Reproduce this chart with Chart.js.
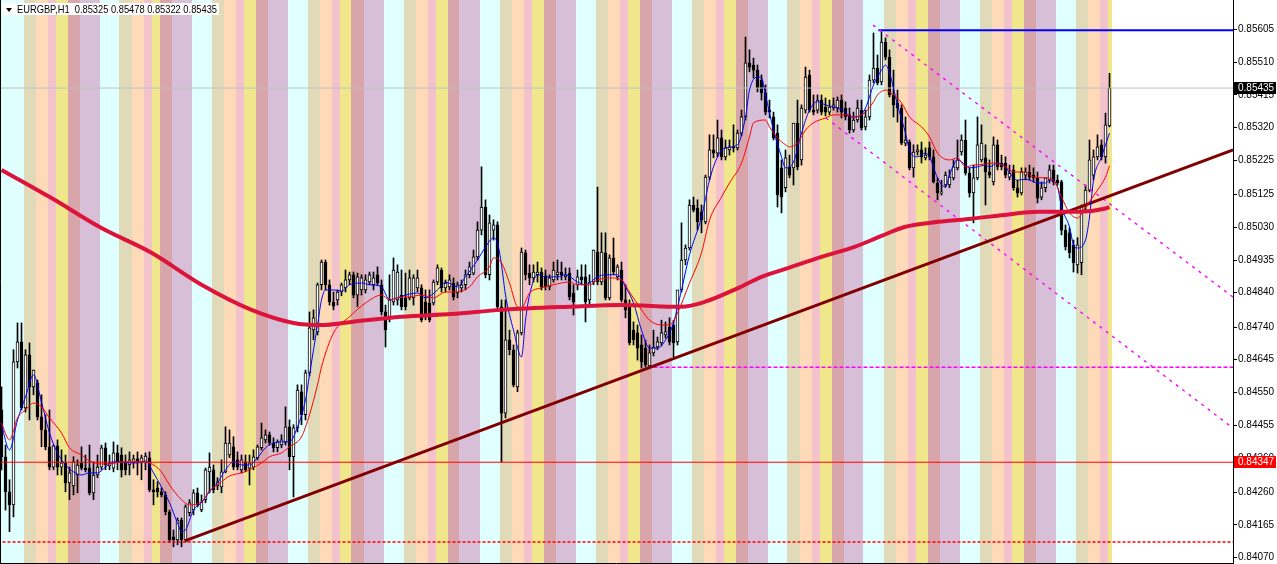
<!DOCTYPE html>
<html>
<head>
<meta charset="utf-8">
<script src="https://cdn.jsdelivr.net/npm/chart.js@4.4.0/dist/chart.umd.min.js"></script>
<style>
html,body{margin:0;padding:0;background:#fff;overflow:hidden}
#wrap{width:1277px;height:564px}
</style>
</head>
<body>
<div id="wrap"><canvas id="chart" width="1277" height="564"></canvas></div>
<script>
// EURGBP H1 candles, bar 0 = leftmost
const symbol = 'EURGBP,H1';
const opens = [
0.84499,0.84363,0.84261,0.84223,0.84639,0.84697,0.84505,0.84659,0.84566,0.84578,
0.84479,0.84441,0.84392,0.84333,0.84395,0.84333,0.84345,0.84287,0.84278,0.84310,
0.84345,0.84330,0.84330,0.84258,0.84310,0.84333,0.84389,0.84336,0.84330,0.84374,
0.84368,0.84348,0.84339,0.84348,0.84357,0.84345,0.84345,0.84360,0.84267,0.84272,
0.84261,0.84252,0.84203,0.84130,0.84121,0.84179,0.84121,0.84200,0.84208,0.84258,
0.84208,0.84238,0.84319,0.84325,0.84278,0.84275,0.84319,0.84368,0.84392,0.84354,
0.84325,0.84348,0.84330,0.84333,0.84360,0.84389,0.84412,0.84427,0.84403,0.84389,
0.84397,0.84406,0.84450,0.84363,0.84447,0.84552,0.84485,0.84607,0.84732,0.84726,
0.84863,0.84929,0.84863,0.84813,0.84819,0.84842,0.84854,0.84877,0.84892,0.84833,
0.84848,0.84848,0.84871,0.84863,0.84892,0.84863,0.84784,0.84767,0.84813,0.84819,
0.84833,0.84825,0.84825,0.84825,0.84854,0.84854,0.84813,0.84810,0.84810,0.84871,
0.84906,0.84854,0.84857,0.84868,0.84839,0.84854,0.84863,0.84892,0.84897,0.84944,
0.85022,0.85089,0.84892,0.85022,0.85037,0.84799,0.84490,0.84703,0.84674,0.84566,
0.84723,0.84956,0.84897,0.84883,0.84892,0.84900,0.84889,0.84857,0.84877,0.84892,
0.84900,0.84886,0.84897,0.84839,0.84863,0.84886,0.84886,0.84819,0.84871,0.84958,
0.84871,0.84956,0.84825,0.84941,0.84886,0.84906,0.84819,0.84804,0.84731,0.84723,
0.84688,0.84679,0.84627,0.84665,0.84682,0.84694,0.84717,0.84740,0.84746,0.84697,
0.84848,0.84935,0.84970,0.85095,0.85086,0.85075,0.85046,0.85176,0.85255,0.85246,
0.85290,0.85235,0.85255,0.85264,0.85261,0.85304,0.85351,0.85508,0.85502,0.85487,
0.85458,0.85421,0.85371,0.85351,0.85304,0.85203,0.85145,0.85206,0.85203,0.85333,
0.85226,0.85371,0.85473,0.85371,0.85371,0.85400,0.85380,0.85365,0.85377,0.85377,
0.85400,0.85377,0.85357,0.85313,0.85342,0.85371,0.85322,0.85351,0.85458,0.85493,
0.85453,0.85569,0.85525,0.85415,0.85392,0.85377,0.85275,0.85278,0.85203,0.85249,
0.85255,0.85232,0.85261,0.85235,0.85159,0.85130,0.85153,0.85153,0.85174,0.85203,
0.85249,0.85284,0.85188,0.85130,0.85174,0.85226,0.85232,0.85191,0.85162,0.85270,
0.85217,0.85217,0.85176,0.85197,0.85145,0.85130,0.85182,0.85191,0.85182,0.85174,
0.85118,0.85145,0.85167,0.85197,0.85167,0.85162,0.85022,0.85014,0.84979,0.84921,
0.84927,0.85089,0.85138,0.85182,0.85235,0.85270,0.85235,0.85325];
const highs = [
0.84566,0.84397,0.84296,0.84674,0.84752,0.84752,0.84674,0.84694,0.84615,0.84586,
0.84543,0.84485,0.84499,0.84397,0.84412,0.84383,0.84368,0.84333,0.84363,0.84354,
0.84392,0.84368,0.84397,0.84348,0.84368,0.84397,0.84403,0.84368,0.84406,0.84397,
0.84389,0.84368,0.84377,0.84368,0.84377,0.84368,0.84374,0.84377,0.84296,0.84290,
0.84272,0.84261,0.84208,0.84150,0.84185,0.84185,0.84223,0.84238,0.84267,0.84272,
0.84252,0.84330,0.84374,0.84339,0.84302,0.84354,0.84450,0.84441,0.84421,0.84377,
0.84368,0.84368,0.84368,0.84383,0.84397,0.84461,0.84441,0.84435,0.84418,0.84412,
0.84427,0.84508,0.84470,0.84456,0.84572,0.84572,0.84615,0.84784,0.84790,0.84868,
0.84935,0.84935,0.84877,0.84842,0.84848,0.84868,0.84906,0.84900,0.84900,0.84897,
0.84892,0.84892,0.84900,0.84900,0.84915,0.84877,0.84804,0.84892,0.84941,0.84921,
0.84906,0.84897,0.84906,0.84892,0.84906,0.84863,0.84848,0.84848,0.84877,0.84921,
0.84912,0.84877,0.84892,0.84883,0.84871,0.84877,0.84906,0.84929,0.84964,0.85046,
0.85206,0.85110,0.85066,0.85052,0.85046,0.84819,0.84819,0.84731,0.84688,0.84731,
0.84970,0.84964,0.84921,0.84921,0.84929,0.84912,0.84906,0.84892,0.84929,0.84935,
0.84929,0.84912,0.84912,0.84863,0.84906,0.84921,0.84921,0.84892,0.84964,0.85147,
0.85014,0.85014,0.84950,0.84999,0.84921,0.84929,0.84863,0.84819,0.84755,0.84746,
0.84717,0.84702,0.84688,0.84731,0.84711,0.84760,0.84755,0.84767,0.84760,0.84790,
0.85043,0.84979,0.85110,0.85118,0.85110,0.85095,0.85182,0.85299,0.85299,0.85342,
0.85313,0.85284,0.85284,0.85328,0.85313,0.85371,0.85583,0.85546,0.85522,0.85502,
0.85473,0.85444,0.85400,0.85365,0.85328,0.85226,0.85255,0.85240,0.85313,0.85400,
0.85386,0.85496,0.85487,0.85415,0.85415,0.85415,0.85406,0.85400,0.85406,0.85409,
0.85415,0.85395,0.85377,0.85365,0.85400,0.85400,0.85371,0.85473,0.85595,0.85531,
0.85603,0.85581,0.85546,0.85487,0.85429,0.85386,0.85351,0.85284,0.85270,0.85270,
0.85278,0.85261,0.85278,0.85255,0.85174,0.85167,0.85191,0.85197,0.85226,0.85284,
0.85299,0.85342,0.85203,0.85211,0.85351,0.85328,0.85270,0.85226,0.85293,0.85284,
0.85240,0.85235,0.85211,0.85211,0.85167,0.85203,0.85203,0.85211,0.85203,0.85191,
0.85162,0.85174,0.85211,0.85211,0.85182,0.85167,0.85037,0.85028,0.84993,0.85000,
0.85095,0.85153,0.85284,0.85255,0.85299,0.85284,0.85362,0.85478];
const lows = [
0.84325,0.84208,0.84145,0.84188,0.84621,0.84499,0.84493,0.84470,0.84543,0.84470,
0.84392,0.84383,0.84325,0.84325,0.84310,0.84310,0.84261,0.84238,0.84252,0.84258,
0.84325,0.84319,0.84252,0.84238,0.84302,0.84325,0.84325,0.84325,0.84319,0.84325,
0.84304,0.84310,0.84310,0.84330,0.84310,0.84296,0.84325,0.84261,0.84223,0.84246,
0.84246,0.84194,0.84113,0.84101,0.84107,0.84101,0.84115,0.84191,0.84194,0.84217,
0.84203,0.84229,0.84258,0.84258,0.84267,0.84258,0.84316,0.84360,0.84325,0.84325,
0.84316,0.84319,0.84281,0.84325,0.84354,0.84383,0.84403,0.84397,0.84377,0.84377,
0.84389,0.84397,0.84325,0.84246,0.84435,0.84456,0.84470,0.84598,0.84703,0.84717,
0.84848,0.84848,0.84804,0.84790,0.84804,0.84831,0.84842,0.84863,0.84825,0.84799,
0.84833,0.84839,0.84863,0.84848,0.84863,0.84775,0.84682,0.84755,0.84804,0.84804,
0.84790,0.84790,0.84819,0.84804,0.84842,0.84755,0.84761,0.84755,0.84804,0.84863,
0.84842,0.84842,0.84848,0.84819,0.84825,0.84842,0.84848,0.84883,0.84892,0.84935,
0.85008,0.84883,0.84877,0.84993,0.84790,0.84348,0.84476,0.84659,0.84566,0.84552,
0.84717,0.84877,0.84863,0.84871,0.84871,0.84848,0.84848,0.84848,0.84871,0.84877,
0.84877,0.84877,0.84819,0.84775,0.84848,0.84863,0.84755,0.84804,0.84863,0.84863,
0.84863,0.84819,0.84819,0.84892,0.84877,0.84813,0.84767,0.84688,0.84688,0.84644,
0.84621,0.84624,0.84621,0.84656,0.84674,0.84685,0.84708,0.84688,0.84653,0.84688,
0.84842,0.84921,0.84964,0.85075,0.85022,0.85014,0.85040,0.85168,0.85232,0.85235,
0.85226,0.85226,0.85240,0.85249,0.85255,0.85296,0.85342,0.85482,0.85464,0.85424,
0.85400,0.85357,0.85348,0.85284,0.85089,0.85072,0.85133,0.85174,0.85153,0.85197,
0.85211,0.85362,0.85365,0.85357,0.85362,0.85357,0.85354,0.85357,0.85371,0.85365,
0.85348,0.85342,0.85304,0.85307,0.85336,0.85313,0.85313,0.85342,0.85450,0.85444,
0.85444,0.85517,0.85409,0.85351,0.85336,0.85270,0.85267,0.85197,0.85176,0.85240,
0.85217,0.85226,0.85226,0.85159,0.85110,0.85124,0.85147,0.85145,0.85168,0.85197,
0.85240,0.85182,0.85118,0.85043,0.85168,0.85220,0.85095,0.85174,0.85153,0.85197,
0.85197,0.85174,0.85168,0.85138,0.85118,0.85124,0.85168,0.85168,0.85162,0.85101,
0.85110,0.85133,0.85159,0.85153,0.85153,0.85008,0.84964,0.84941,0.84900,0.84897,
0.84892,0.85080,0.85133,0.85168,0.85226,0.85226,0.85217,0.85322];
const closes = [
0.84363,0.84261,0.84223,0.84639,0.84697,0.84505,0.84659,0.84566,0.84615,0.84479,
0.84441,0.84392,0.84333,0.84395,0.84333,0.84345,0.84287,0.84316,0.84348,0.84339,
0.84330,0.84325,0.84258,0.84310,0.84333,0.84389,0.84339,0.84345,0.84374,0.84348,
0.84325,0.84325,0.84354,0.84357,0.84345,0.84360,0.84365,0.84267,0.84261,0.84261,
0.84252,0.84203,0.84121,0.84121,0.84179,0.84121,0.84217,0.84229,0.84258,0.84223,
0.84232,0.84325,0.84333,0.84267,0.84290,0.84319,0.84403,0.84403,0.84333,0.84333,
0.84354,0.84325,0.84345,0.84363,0.84392,0.84418,0.84427,0.84403,0.84389,0.84406,
0.84412,0.84450,0.84363,0.84447,0.84557,0.84485,0.84607,0.84738,0.84767,0.84863,
0.84929,0.84863,0.84813,0.84801,0.84842,0.84863,0.84877,0.84892,0.84833,0.84886,
0.84883,0.84877,0.84892,0.84883,0.84868,0.84784,0.84732,0.84819,0.84906,0.84900,
0.84799,0.84799,0.84883,0.84883,0.84883,0.84761,0.84775,0.84761,0.84871,0.84912,
0.84854,0.84868,0.84877,0.84828,0.84863,0.84863,0.84892,0.84915,0.84944,0.85022,
0.85089,0.84892,0.85043,0.85037,0.84799,0.84490,0.84703,0.84674,0.84572,0.84723,
0.84958,0.84892,0.84883,0.84900,0.84900,0.84857,0.84857,0.84883,0.84906,0.84900,
0.84892,0.84892,0.84828,0.84813,0.84886,0.84877,0.84813,0.84871,0.84964,0.84871,
0.84958,0.84825,0.84941,0.84900,0.84915,0.84819,0.84790,0.84694,0.84703,0.84679,
0.84639,0.84630,0.84665,0.84682,0.84697,0.84723,0.84726,0.84697,0.84694,0.84848,
0.84935,0.84970,0.85095,0.85080,0.85046,0.85052,0.85176,0.85255,0.85246,0.85290,
0.85235,0.85261,0.85264,0.85261,0.85304,0.85351,0.85508,0.85496,0.85487,0.85435,
0.85421,0.85365,0.85365,0.85290,0.85124,0.85118,0.85232,0.85182,0.85333,0.85206,
0.85377,0.85467,0.85371,0.85365,0.85400,0.85365,0.85365,0.85380,0.85386,0.85400,
0.85365,0.85351,0.85313,0.85342,0.85377,0.85319,0.85351,0.85458,0.85493,0.85450,
0.85569,0.85525,0.85415,0.85386,0.85377,0.85275,0.85284,0.85203,0.85249,0.85255,
0.85235,0.85240,0.85235,0.85162,0.85130,0.85133,0.85182,0.85176,0.85206,0.85226,
0.85284,0.85188,0.85130,0.85174,0.85270,0.85275,0.85191,0.85182,0.85270,0.85206,
0.85206,0.85182,0.85188,0.85145,0.85130,0.85191,0.85191,0.85176,0.85174,0.85115,
0.85145,0.85174,0.85197,0.85162,0.85159,0.85022,0.84973,0.84956,0.84927,0.84979,
0.85089,0.85138,0.85226,0.85235,0.85264,0.85235,0.85328,0.85435];

// fast MA (blue), read at sampled bars
const fastBars = [0,2,4,6,8,10,12,14,16,18,20,22,24,26,28,30,32,34,36,38,40,42,44,45,46,48,50,52,54,56,58,60,62,64,66,68,70,72,74,76,77,78,79,80,81,83,85,87,90,92,95,97,99,101,104,106,109,111,114,116,119,121,123,124,125,126,128,130,131,132,134,136,139,141,144,146,149,151,154,156,158,160,162,164,166,168,170,172,175,177,179,181,184,186,187,189,190,191,193,195,196,198,200,202,204,206,209,211,212,214,216,218,220,221,222,224,226,227,229,231,232,234,236,237,239,241,242,244,246,247,249,251,252,254,256,257,259,261,262,264,265,267,268,269,271,272,273,275,276,277];
const fastMA = [0.84455,0.84383,0.84470,0.84537,0.84601,0.84522,0.84432,0.84374,0.84339,0.84319,0.84310,0.84316,0.84316,0.84333,0.84348,0.84348,0.84345,0.84345,0.84351,0.84316,0.84275,0.84229,0.84170,0.84145,0.84150,0.84208,0.84229,0.84261,0.84287,0.84325,0.84348,0.84339,0.84339,0.84360,0.84389,0.84403,0.84406,0.84406,0.84450,0.84528,0.84601,0.84674,0.84746,0.84819,0.84848,0.84848,0.84845,0.84863,0.84868,0.84863,0.84857,0.84819,0.84825,0.84833,0.84839,0.84825,0.84848,0.84871,0.84857,0.84886,0.84935,0.84973,0.84999,0.84985,0.84921,0.84833,0.84731,0.84653,0.84760,0.84833,0.84892,0.84886,0.84886,0.84892,0.84871,0.84863,0.84886,0.84892,0.84892,0.84857,0.84810,0.84731,0.84679,0.84679,0.84702,0.84752,0.84848,0.84950,0.85060,0.85167,0.85235,0.85261,0.85270,0.85351,0.85429,0.85467,0.85464,0.85415,0.85313,0.85235,0.85203,0.85220,0.85304,0.85371,0.85395,0.85386,0.85377,0.85365,0.85351,0.85351,0.85377,0.85444,0.85487,0.85502,0.85479,0.85386,0.85304,0.85255,0.85235,0.85246,0.85235,0.85174,0.85147,0.85182,0.85226,0.85211,0.85203,0.85206,0.85211,0.85206,0.85217,0.85206,0.85188,0.85167,0.85170,0.85167,0.85159,0.85159,0.85167,0.85147,0.85089,0.85031,0.84979,0.84970,0.84993,0.85060,0.85167,0.85235,0.85270,0.85304];

// medium MA (thin red)
const midBars = [0,2,4,6,8,10,12,15,17,20,22,25,27,30,33,35,37,40,42,45,47,50,52,55,57,60,62,65,67,70,72,75,77,79,80,83,87,91,95,97,99,102,105,108,111,113,117,119,122,123,125,127,129,130,132,135,138,142,144,147,149,152,155,157,160,162,165,167,169,172,175,177,180,182,185,187,188,191,192,194,196,197,199,201,203,206,208,211,213,216,218,219,221,222,225,227,230,232,234,237,239,241,243,246,248,251,253,256,258,261,263,265,267,269,271,274,276,277];
const midMA = [0.84461,0.84412,0.84476,0.84499,0.84519,0.84508,0.84476,0.84432,0.84389,0.84368,0.84351,0.84342,0.84342,0.84348,0.84348,0.84348,0.84345,0.84319,0.84281,0.84238,0.84223,0.84232,0.84264,0.84290,0.84307,0.84316,0.84325,0.84345,0.84363,0.84374,0.84392,0.84421,0.84485,0.84572,0.84624,0.84723,0.84770,0.84810,0.84833,0.84819,0.84825,0.84828,0.84833,0.84825,0.84842,0.84842,0.84857,0.84886,0.84915,0.84941,0.84927,0.84868,0.84799,0.84796,0.84839,0.84854,0.84863,0.84871,0.84863,0.84863,0.84877,0.84883,0.84877,0.84842,0.84790,0.84760,0.84746,0.84746,0.84781,0.84868,0.84956,0.85051,0.85118,0.85159,0.85217,0.85293,0.85334,0.85342,0.85322,0.85290,0.85270,0.85264,0.85275,0.85313,0.85334,0.85348,0.85357,0.85357,0.85351,0.85365,0.85395,0.85415,0.85429,0.85424,0.85392,0.85351,0.85322,0.85293,0.85246,0.85226,0.85232,0.85206,0.85211,0.85214,0.85217,0.85206,0.85191,0.85191,0.85176,0.85174,0.85167,0.85118,0.85072,0.85057,0.85089,0.85138,0.85176,0.85209];

// slow MA (thick crimson)
const slowBars = [0,12.5,25,37.5,50,62.5,73,80,87.5,100,112.5,125,141.75,155,170,175.75,184.25,190,196.75,205,213.25,220,225.75,234.25,242.5,250.75,259.25,269.25,275.75,277];
const slowMA = [0.85197,0.85115,0.85028,0.84956,0.84863,0.84790,0.84752,0.84746,0.84755,0.84770,0.84778,0.84790,0.84799,0.84804,0.84799,0.84813,0.84854,0.84886,0.84912,0.84944,0.84973,0.85005,0.85031,0.85046,0.85055,0.85066,0.85075,0.85075,0.85084,0.85089];

// drawn objects: trendline, channel, levels (bar index, price)
const trendBars = [46, 307.9];
const trendVals = [0.84119, 0.85255];
const chanUpBars = [217.9, 307.9];
const chanUpVals = [0.85618, 0.84827];
const chanLoBars = [206.1, 307.9];
const chanLoVals = [0.85348, 0.84446];
const highLevel = 0.85603, highFrom = 219.2;
const supportLevel = 0.84623, supportFrom = 163;
const lowLevel = 0.84115;
const alertLevel = 0.84347;

const tickLabels = [0.85605,0.85510,0.85415,0.85320,0.85225,0.85125,0.85030,0.84935,0.84840,0.84740,0.84645,0.84550,0.84455,0.84360,0.84260,0.84165,0.84070];

// hourly session shading
const sessionColors = {C:'#e0ffff', T:'#e0dab8', P:'#ffdab9', K:'#f2c3ca', Y:'#f0e68c', R:'#d8a6aa', V:'#d8bfd8'};
const dayFull = 'TTTPPPKKYYYRRRVVVVVCCCCC';
const dayShort = 'TTTPPPKKYYRRRVVVVVCCCCC';
const sessions = 'CCCCCC' + dayFull + dayShort + dayFull.repeat(9) + 'TTTPPPKKY';

const last = closes.length - 1;
const bid = closes[last];
const xMin = -0.125, xMax = 307.875;
const yMin = 0.84054, yMax = 0.85691;
const edge = 320;

const idx = closes.map((_, i) => i);
const pts = (xs, ys) => xs.map((x, i) => ({x, y: ys[i]}));
const line = (data, color, width, extra) => Object.assign({
  type: 'line', data, borderColor: color, borderWidth: width,
  pointRadius: 0, fill: false, order: 1
}, extra || {});

const bandPlugin = {
  id: 'bands',
  beforeDatasetsDraw(chart) {
    const {ctx, chartArea: a, scales: {x}} = chart;
    ctx.save();
    ctx.beginPath(); ctx.rect(a.left, a.top, a.right - a.left, a.bottom - a.top); ctx.clip();
    for (let i = 0; i < sessions.length; i++) {
      const x0 = Math.round(x.getPixelForValue(i - 0.5));
      const x1 = Math.round(x.getPixelForValue(i + 0.5));
      ctx.fillStyle = sessionColors[sessions[i]];
      ctx.fillRect(x0, a.top, x1 - x0, a.bottom - a.top);
    }
    ctx.restore();
  }
};

const overlayPlugin = {
  id: 'overlay',
  afterDraw(chart) {
    const {ctx, chartArea: a, scales: {y}} = chart;
    ctx.save();
    ctx.strokeStyle = '#000';
    ctx.lineWidth = 1;
    ctx.beginPath();
    ctx.moveTo(0.5, 0); ctx.lineTo(0.5, a.bottom + 0.5);
    ctx.moveTo(0, a.bottom + 0.5); ctx.lineTo(a.right, a.bottom + 0.5);
    ctx.stroke();

    const tag = (v, bg) => {
      const py = Math.round(y.getPixelForValue(v));
      ctx.fillStyle = bg;
      ctx.fillRect(a.right + 1, py - 6, 42, 12);
      ctx.fillStyle = '#fff';
      ctx.font = '10px "Liberation Sans"';
      ctx.textBaseline = 'middle';
      ctx.fillText(v.toFixed(5), a.right + 5, py + 0.5);
    };
    tag(bid, '#000');
    tag(alertLevel, '#ff0000');

    const title = symbol + '  ' + [opens[last], highs[last], lows[last], closes[last]].map(v => v.toFixed(5)).join(' ');
    ctx.fillStyle = '#fff';
    ctx.fillRect(2, 3, 217, 12);
    ctx.fillStyle = '#000';
    ctx.beginPath(); ctx.moveTo(6, 8); ctx.lineTo(12, 8); ctx.lineTo(9, 12); ctx.closePath(); ctx.fill();
    ctx.font = '11px "Liberation Sans"';
    ctx.textBaseline = 'alphabetic';
    const w = ctx.measureText(title).width;
    ctx.translate(17, 13);
    ctx.scale(200 / w, 1);
    ctx.fillText(title, 0, 0);
    ctx.restore();
  }
};

new Chart(document.getElementById('chart'), {
  type: 'bar',
  data: {
    datasets: [
      {
        type: 'bar', order: 10, grouped: false,
        data: idx.map(i => ({x: i, y: [lows[i], highs[i]]})),
        backgroundColor: '#000', barThickness: 1
      },
      {
        type: 'bar', order: 9, grouped: false,
        data: idx.map(i => ({x: i, y: [opens[i], closes[i]]})),
        backgroundColor: idx.map(i => closes[i] >= opens[i] ? '#ffffff' : '#000000'),
        borderColor: '#000', borderWidth: 1, borderSkipped: false,
        barThickness: 3, minBarLength: 1
      },
      line(pts(slowBars, slowMA), '#dc143c', 4, {cubicInterpolationMode: 'monotone'}),
      line(pts(midBars, midMA), '#ff0000', 1, {cubicInterpolationMode: 'monotone'}),
      line(pts(fastBars, fastMA), '#0000ff', 1, {cubicInterpolationMode: 'monotone'}),
      line(pts(trendBars, trendVals), '#800000', 3),
      line(pts(chanUpBars, chanUpVals), '#ff00ff', 1.4, {borderDash: [3, 5]}),
      line(pts(chanLoBars, chanLoVals), '#ff00ff', 1.4, {borderDash: [3, 5]}),
      line(pts([-1, edge], [bid, bid]), '#c0c0c0', 1, {order: 3}),
      line(pts([-1, edge], [alertLevel, alertLevel]), '#ff0000', 1),
      line(pts([-1, edge], [lowLevel, lowLevel]), '#ff0000', 1.4, {borderDash: [3, 2]}),
      line(pts([supportFrom, edge], [supportLevel, supportLevel]), '#ff00ff', 1.4, {borderDash: [4, 2]}),
      line(pts([highFrom, edge], [highLevel, highLevel]), '#0000ff', 2)
    ]
  },
  options: {
    responsive: false,
    animation: false,
    events: [],
    layout: {padding: {left: 1, top: 0, right: 0, bottom: 1}},
    plugins: {legend: {display: false}, tooltip: {enabled: false}},
    scales: {
      x: {type: 'linear', display: false, min: xMin, max: xMax, offset: false},
      y: {
        position: 'right', min: yMin, max: yMax,
        afterBuildTicks: s => { s.ticks = tickLabels.map(v => ({value: v})); },
        afterFit: s => { s.width = 44; s.paddingTop = 0; s.paddingBottom = 0; },
        ticks: {
          callback: v => v.toFixed(5), color: '#000', padding: 1,
          autoSkip: false, maxRotation: 0,
          font: {family: 'Liberation Sans', size: 10}
        },
        grid: {drawOnChartArea: false, drawTicks: true, tickLength: 4, color: '#000'},
        border: {display: true, color: '#000', width: 1}
      }
    }
  },
  plugins: [bandPlugin, overlayPlugin]
});
</script>
</body>
</html>
